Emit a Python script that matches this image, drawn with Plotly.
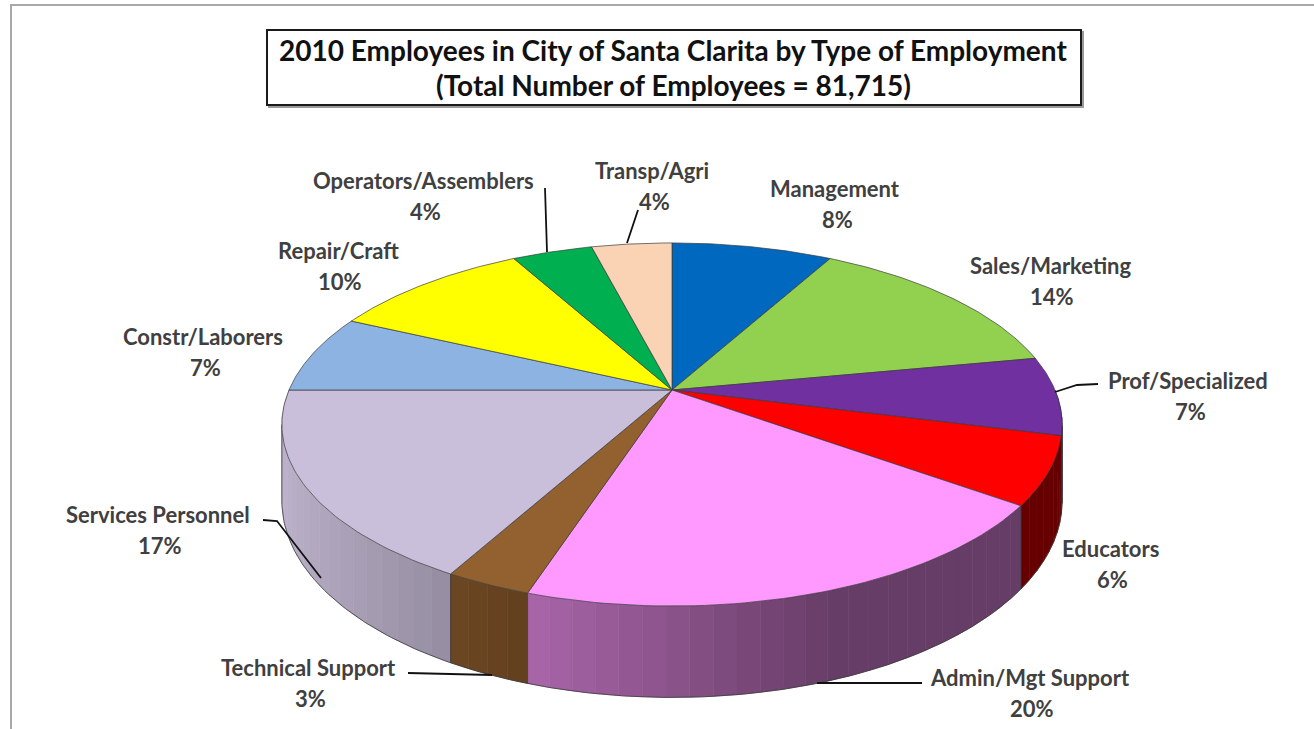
import numpy as np
import plotly.graph_objects as go

# ---------------- data ----------------
categories = ["Management", "Sales/Marketing", "Prof/Specialized", "Educators",
              "Admin/Mgt Support", "Technical Support", "Services Personnel",
              "Constr/Laborers", "Repair/Craft", "Operators/Assemblers", "Transp/Agri"]
percent = [8, 14, 7, 6, 20, 3, 17, 7, 10, 4, 4]
total_employees = "81,715"

# ---------------- styles ----------------
colors = ["#0068BE", "#92D050", "#7030A0", "#FF0000", "#FF99FF", "#93602F",
          "#CABFDA", "#8DB3E2", "#FFFF00", "#00B050", "#FAD3B5"]

W, H = 1314, 729
CX, CY, A, B, K, T = 672, 390, 383, 175, 0.19, 74
EDGE = "#3a3a3a"

# label block centres (name line centre)
label_pos = {
    "Management": (835, 188), "Sales/Marketing": (1050, 265),
    "Prof/Specialized": (1188, 380), "Educators": (1110, 548),
    "Admin/Mgt Support": (1030, 677), "Technical Support": (308, 667),
    "Services Personnel": (158, 514), "Constr/Laborers": (203, 336),
    "Repair/Craft": (338, 250), "Operators/Assemblers": (423, 180),
    "Transp/Agri": (652, 170),
}
leaders = [
    [(627, 243), (638, 210)],
    [(547, 252), (545, 188)],
    [(1055, 392), (1077, 385), (1098, 384)],
    [(263, 520), (277, 521), (321, 578)],
    [(408, 673), (492, 675)],
    [(817, 683), (922, 683)],
]


def proj(phi_deg, drop=0.0):
    p = np.radians(phi_deg)
    X, D = np.sin(p), np.cos(p)
    s = 1.0 / (1.0 + K * D)
    return CX + A * X * s, CY - B * D * s + drop * T * s


def shade(hex_color, f):
    h = hex_color.lstrip("#")
    r, g, b = (int(h[i:i + 2], 16) for i in (0, 2, 4))
    return "rgb(%d,%d,%d)" % (r * f, g * f, b * f)


def side_factor(phi):
    X = np.sin(np.radians(phi))
    return 0.4 + 0.55 * max(0.0, 0.35 - X) / 1.35


vals = np.array(percent, dtype=float)
bounds = np.concatenate([[0], np.cumsum(vals)]) / vals.sum() * 360.0

fig = go.Figure()

# ---- side walls (front half) ----
strips = []
for i in range(len(categories)):
    a0, a1 = max(bounds[i], 90.0), min(bounds[i + 1], 270.0)
    if a0 >= a1:
        continue
    n = int(np.ceil((a1 - a0) / 3.0))
    edges = np.linspace(a0, a1, n + 1)
    for b0, b1 in zip(edges[:-1], edges[1:]):
        ph = np.linspace(b0, b1, 6)
        tx, ty = proj(ph)
        bx, by = proj(ph[::-1], 1.0)
        xs = np.concatenate([tx, bx, tx[:1]])
        ys = np.concatenate([ty, by, ty[:1]])
        mid = 0.5 * (b0 + b1)
        col = shade(colors[i], side_factor(mid))
        strips.append((np.cos(np.radians(mid)), xs, ys, col))

strips.sort(key=lambda s: -s[0])
for _, xs, ys, col in strips:
    fig.add_trace(go.Scatter(x=xs, y=ys, mode="lines", fill="toself",
                             fillcolor=col, line=dict(color=col, width=0.6),
                             hoverinfo="skip", showlegend=False))

# side outline
lo = 90 + np.degrees(np.arcsin(K))
hi = 270 - np.degrees(np.arcsin(K))
ph = np.linspace(lo, hi, 200)
bx, by = proj(ph, 1.0)
fig.add_trace(go.Scatter(x=bx, y=by, mode="lines", line=dict(color=EDGE, width=0.8),
                         hoverinfo="skip", showlegend=False))
vert = [lo, hi] + [b for b in bounds if lo < b < hi]
for b in vert:
    x0, y0 = proj(b)
    x1, y1 = proj(b, 1.0)
    fig.add_trace(go.Scatter(x=[x0, x1], y=[y0, y1], mode="lines",
                             line=dict(color=EDGE, width=0.8),
                             hoverinfo="skip", showlegend=False))

# ---- top face slices ----
for i, cat in enumerate(categories):
    ph = np.linspace(bounds[i], bounds[i + 1], 60)
    tx, ty = proj(ph)
    xs = np.concatenate([[CX], tx, [CX]])
    ys = np.concatenate([[CY], ty, [CY]])
    fig.add_trace(go.Scatter(x=xs, y=ys, mode="lines", fill="toself",
                             fillcolor=colors[i], line=dict(color=EDGE, width=0.7),
                             name=cat, hoverinfo="skip", showlegend=False))

# ---- labels ----
lab_font = dict(family="Lato", size=22, color="#404040")
for cat, v in zip(categories, percent):
    x, y = label_pos[cat]
    fig.add_annotation(x=x, y=y, xref="x", yref="y", text="<b>%s</b>" % cat,
                       showarrow=False, font=lab_font,
                       xanchor="center", yanchor="middle")
    fig.add_annotation(x=x + 2, y=y + 31, xref="x", yref="y", text="<b>%d%%</b>" % v,
                       showarrow=False, font=lab_font,
                       xanchor="center", yanchor="middle")

shapes = []
for pts in leaders:
    path = "M %f %f " % pts[0] + " ".join("L %f %f" % p for p in pts[1:])
    shapes.append(dict(type="path", path=path, xref="x", yref="y",
                       line=dict(color="#111111", width=1.8)))

# title box
shapes.append(dict(type="rect", x0=269, y0=32, x1=1083, y1=107, xref="x", yref="y",
                   line=dict(color="#9a9a9a", width=2), fillcolor="rgba(0,0,0,0)"))
shapes.append(dict(type="rect", x0=267, y0=30, x1=1081, y1=105, xref="x", yref="y",
                   line=dict(color="#1a1a1a", width=2), fillcolor="white"))
# frame
shapes.append(dict(type="path", path="M 11 740 L 11 5 L 1330 5", xref="x", yref="y",
                   line=dict(color="#a8a8a8", width=2)))

title_font = dict(family="Lato", size=28, color="#111111")
fig.add_annotation(x=673, y=50, xref="x", yref="y",
                   text="<b>2010 Employees in City of Santa Clarita by Type of Employment</b>",
                   showarrow=False, font=title_font, xanchor="center", yanchor="middle")
fig.add_annotation(x=673, y=85, xref="x", yref="y",
                   text="<b>(Total Number of Employees = %s)</b>" % total_employees,
                   showarrow=False, font=title_font, xanchor="center", yanchor="middle")

fig.update_layout(
    width=W, height=H, margin=dict(l=0, r=0, t=0, b=0),
    paper_bgcolor="white", plot_bgcolor="white", shapes=shapes,
    xaxis=dict(range=[0, W], visible=False, fixedrange=True),
    yaxis=dict(range=[H, 0], visible=False, fixedrange=True),
)

fig.write_html("out.html", config={"displayModeBar": False, "staticPlot": True},
               post_script="document.body.style.margin='0px';")
